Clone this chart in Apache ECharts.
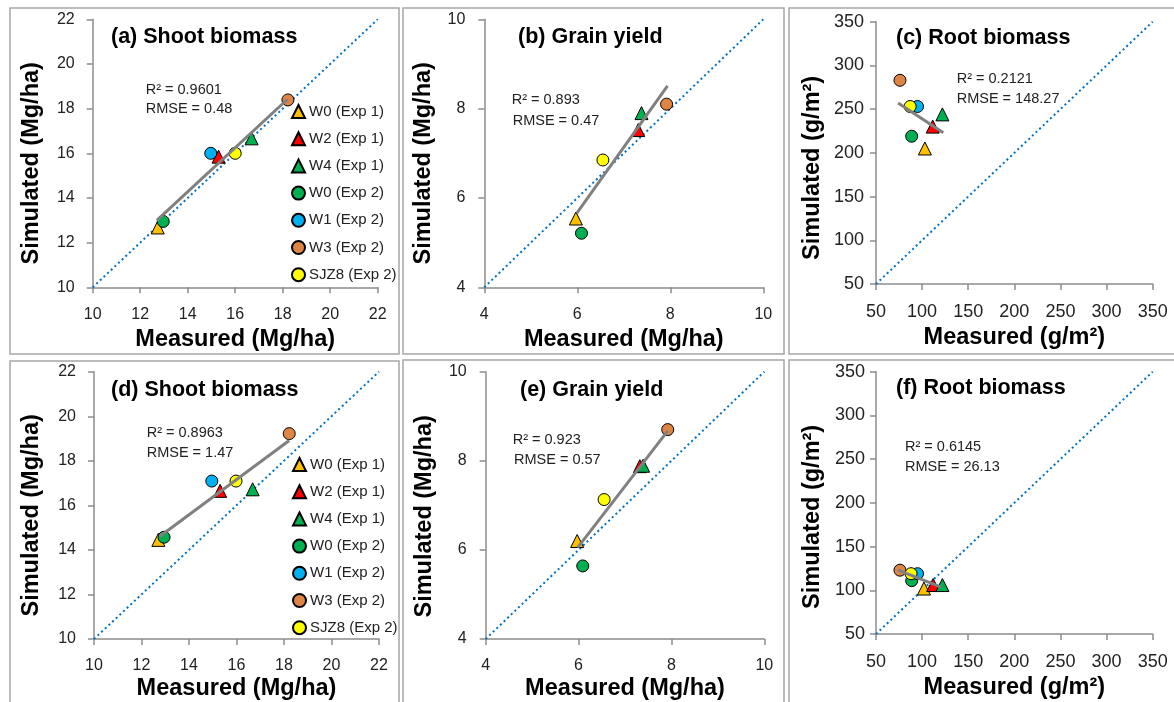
<!DOCTYPE html>
<html>
<head>
<meta charset="utf-8">
<script src="https://cdn.jsdelivr.net/npm/echarts@6/dist/echarts.min.js"></script>
<style>
  html, body { margin: 0; background: #fff; }
  #chart { width: 1174px; height: 702px; }
</style>
</head>
<body>
<div id="chart"></div>
<script>
// treatments, in the order Excel plotted them
var treatments = ['W0 (Exp 1)', 'W2 (Exp 1)', 'W4 (Exp 1)', 'W0 (Exp 2)', 'W1 (Exp 2)', 'W3 (Exp 2)', 'SJZ8 (Exp 2)']

// [measured, simulated] per treatment, null = not shown
var shootA = [[12.74, 12.68], [15.3, 15.85], [16.69, 16.67], [12.97, 12.95], [14.97, 16.0], [18.22, 18.39], [16.0, 16.0]]
var grainB = [[5.97, 5.54], [7.31, 7.52], [7.38, 7.9], [6.09, 5.21], null, [7.92, 8.1], [6.55, 6.85]]
var rootC = [[103, 205], [111.5, 230], [122, 244], [88.7, 219], [95, 253], [76, 283], [87, 253]]
var shootD = [[12.71, 14.45], [15.31, 16.65], [16.68, 16.72], [12.95, 14.57], [14.96, 17.09], [18.22, 19.22], [15.98, 17.09]]
var grainE = [[5.97, 6.2], [7.32, 7.88], [7.39, 7.89], [6.09, 5.64], null, [7.92, 8.7], [6.55, 7.13]]
var rootF = [[102, 102], [112, 106], [122, 106], [88.7, 111], [95, 119], [76, 123], [88, 119]]

// regression line end points
var trendA = [[12.7, 13.0], [18.2, 18.42]]
var trendB = [[5.99, 5.66], [7.94, 8.51]]
var trendC = [[74, 257], [123, 223]]
var trendD = [[12.75, 14.59], [18.22, 18.91]]
var trendE = [[5.98, 6.05], [7.92, 8.67]]
var trendF = [[74, 123], [120.5, 103.5]]

// 1:1 lines
var oneShoot = [[10, 10], [22, 22]]
var oneGrain = [[4, 4], [10, 10]]
var oneRoot = [[50, 50], [350, 350]]

// axis ticks: [min, max, step]
var shootTicks = [10, 22, 2]
var grainTicks = [4, 10, 2]
var rootTicks = [50, 350, 50]

var titles = ['(a) Shoot biomass', '(b) Grain yield', '(c) Root biomass', '(d) Shoot biomass', '(e) Grain yield', '(f) Root biomass']
var stats = [
  ['R\u00b2 = 0.9601', 'RMSE = 0.48'],
  ['R\u00b2 = 0.893', 'RMSE = 0.47'],
  ['R\u00b2 = 0.2121', 'RMSE = 148.27'],
  ['R\u00b2 = 0.8963', 'RMSE = 1.47'],
  ['R\u00b2 = 0.923', 'RMSE = 0.57'],
  ['R\u00b2 = 0.6145', 'RMSE = 26.13']
]
var massNames = ['Measured (Mg/ha)', 'Simulated (Mg/ha)']
var rootNames = ['Measured (g/m\u00b2)', 'Simulated (g/m\u00b2)']

var symbols = ['triangle', 'triangle', 'triangle', 'circle', 'circle', 'circle', 'circle']
var colors = ['#FFC000', '#FF0000', '#00B050', '#00B050', '#00B0F0', '#DE8546', '#FFFF00']
var font = 'Liberation Sans, Arial, sans-serif'

// yShift pushes the rotated y name down the axis (Excel does not center it)
var panels = [
  { pts: shootA, trend: trendA, one: oneShoot, ticks: shootTicks, names: massNames,
    grid: { left: 92.7, top: 19.3, width: 285, height: 268 }, box: [10, 8, 389, 346],
    titlePos: [111, 37.7], statPos: [[145.7, 90], [145.7, 109]], lab: 16, yMargin: 18, xGap: 40, yGap: 49, yShift: 10 },
  { pts: grainB, trend: trendB, one: oneGrain, ticks: grainTicks, names: massNames,
    grid: { left: 484.3, top: 19.3, width: 279, height: 268 }, box: [403, 8, 381, 346],
    titlePos: [518, 37.7], statPos: [[511.7, 100], [512.7, 120.7]], lab: 16, yMargin: 19, xGap: 40, yGap: 49, yShift: 10 },
  { pts: rootC, trend: trendC, one: oneRoot, ticks: rootTicks, names: rootNames,
    grid: { left: 876, top: 21.7, width: 276.7, height: 262.3 }, box: [789, 8, 400, 346],
    titlePos: [896, 39.3], statPos: [[956.7, 79], [956.7, 99]], lab: 18, yMargin: 12, xGap: 42, yGap: 51, yShift: 15 },
  { pts: shootD, trend: trendD, one: oneShoot, ticks: shootTicks, names: massNames,
    grid: { left: 94, top: 371.7, width: 285, height: 269 }, box: [10, 361, 389, 360],
    titlePos: [111, 391], statPos: [[146.7, 432.7], [146.7, 452.7]], lab: 16, yMargin: 18, xGap: 38, yGap: 50, yShift: 10 },
  { pts: grainE, trend: trendE, one: oneGrain, ticks: grainTicks, names: massNames,
    grid: { left: 485.7, top: 371.7, width: 278.6, height: 268.3 }, box: [403, 360, 381, 360],
    titlePos: [520, 391], statPos: [[512.7, 440], [514, 460]], lab: 16, yMargin: 19, xGap: 38, yGap: 49, yShift: 11 },
  { pts: rootF, trend: trendF, one: oneRoot, ticks: rootTicks, names: rootNames,
    grid: { left: 876, top: 371.7, width: 276.7, height: 262.3 }, box: [789, 360, 400, 360],
    titlePos: [896, 389.3], statPos: [[905, 446.7], [905, 466.7]], lab: 18, yMargin: 11, xGap: 42, yGap: 51, yShift: 14 }
]

var grids = [], xAxes = [], yAxes = [], series = [], graphics = [], titleList = []

function axis (p, i, isX) {
  return {
    type: 'value',
    gridIndex: i,
    min: p.ticks[0],
    max: p.ticks[1],
    interval: p.ticks[2],
    name: isX ? p.names[0] : p.names[1],
    nameLocation: 'middle',
    nameGap: isX ? p.xGap : p.yGap,
    nameTextStyle: {
      fontFamily: font,
      fontSize: 23.5,
      fontWeight: 'bold',
      color: '#000',
      padding: isX ? 0 : [0, p.yShift * 2, 0, 0]
    },
    axisLine: { show: true, lineStyle: { color: '#8C8C8C', width: 1.5 } },
    axisTick: { show: true, length: 6, lineStyle: { color: '#8C8C8C', width: 1.5 } },
    axisLabel: { fontFamily: font, fontSize: p.lab, color: '#222', margin: isX ? 19 : p.yMargin },
    splitLine: { show: false }
  }
}

panels.forEach(function (p, i) {
  grids.push(p.grid)
  xAxes.push(axis(p, i, true))
  yAxes.push(axis(p, i, false))

  series.push({
    type: 'line',
    xAxisIndex: i,
    yAxisIndex: i,
    data: p.one,
    symbol: 'none',
    silent: true,
    z: 1,
    lineStyle: { color: '#0070C0', width: 2, type: [2, 3] }
  })

  treatments.forEach(function (name, k) {
    series.push({
      name: name,
      type: 'scatter',
      xAxisIndex: i,
      yAxisIndex: i,
      symbol: symbols[k],
      symbolSize: symbols[k] === 'circle' ? 12 : 13,
      data: p.pts[k] ? [p.pts[k]] : [],
      z: 2 + k * 0.01,
      itemStyle: { color: colors[k], borderColor: '#000', borderWidth: 1, opacity: 1 }
    })
  })

  series.push({
    type: 'line',
    xAxisIndex: i,
    yAxisIndex: i,
    data: p.trend,
    symbol: 'none',
    silent: true,
    z: 3,
    lineStyle: { color: '#808080', width: 3 }
  })

  titleList.push({
    text: titles[i],
    left: p.titlePos[0],
    top: p.titlePos[1] - 12,
    padding: 0,
    textStyle: { fontFamily: font, fontSize: 21.5, fontWeight: 'bold', color: '#000' }
  })

  graphics.push({
    type: 'rect',
    shape: { x: p.box[0], y: p.box[1], width: p.box[2], height: p.box[3] },
    style: { fill: 'none', stroke: '#A6A6A6', lineWidth: 1.5 },
    silent: true,
    z: -10
  })
  stats[i].forEach(function (t, j) {
    graphics.push({
      type: 'text',
      x: p.statPos[j][0],
      y: p.statPos[j][1],
      style: { text: t, font: '14.5px ' + font, fill: '#222', verticalAlign: 'middle' },
      silent: true
    })
  })
})

function legendAt (left, top) {
  return {
    data: treatments,
    orient: 'vertical',
    left: left,
    top: top,
    padding: 0,
    itemGap: 12.2,
    itemWidth: 13,
    itemHeight: 13,
    selectedMode: false,
    textStyle: { fontFamily: font, fontSize: 15, color: '#222', padding: [0, 0, 0, -1] }
  }
}

var myChart = echarts.init(document.getElementById('chart'))
myChart.setOption({
  animation: false,
  backgroundColor: '#fff',
  title: titleList,
  legend: [legendAt(291, 104), legendAt(292, 457)],
  grid: grids,
  xAxis: xAxes,
  yAxis: yAxes,
  graphic: graphics,
  series: series
})
</script>
</body>
</html>
